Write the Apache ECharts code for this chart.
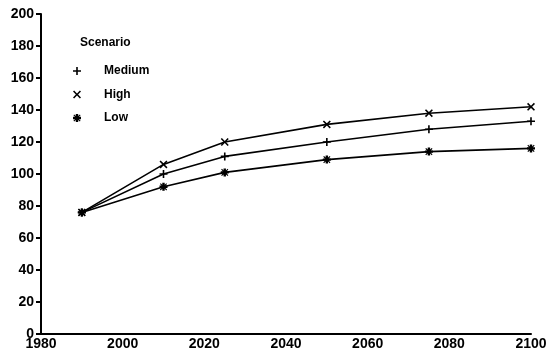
<!DOCTYPE html>
<html><head><meta charset="utf-8">
<script src="https://cdn.jsdelivr.net/npm/echarts@6/dist/echarts.min.js"></script>
<style>html,body{margin:0;padding:0;background:#fff}#c{width:550px;height:357px}</style>
</head><body><div id="c"></div>
<script>
var years = [1990, 2010, 2025, 2050, 2075, 2100];
var medium = [76, 100, 111, 120, 128, 133];
var high = [76, 106, 120, 131, 138, 142];
var low = [76, 92, 101, 109, 114, 116];
var seriesNames = ['Medium', 'High', 'Low'];
var xTicks = [1980, 2000, 2020, 2040, 2060, 2080, 2100];
var yTicks = [0, 20, 40, 60, 80, 100, 120, 140, 160, 180, 200];

var plusPath = 'path://M4,0H6V4H10V6H6V10H4V6H0V4H4Z';
var xPath = 'path://M1.4,0L5,3.6L8.6,0L10,1.4L6.4,5L10,8.6L8.6,10L5,6.4L1.4,10L0,8.6L3.6,5L0,1.4Z';
var starPath = 'path://M3.5,0H6.5V2.5L8.5,0.5L9.5,1.5L7.5,3.5H10V6.5H7.5L9.5,8.5L8.5,9.5L6.5,7.5V10H3.5V7.5L1.5,9.5L0.5,8.5L2.5,6.5H0V3.5H2.5L0.5,1.5L1.5,0.5L3.5,2.5Z';
var symbols = [plusPath, xPath, starPath];
var values = [medium, high, low];

function pairs(v){ return years.map(function(y,i){ return [y, v[i]]; }); }

var chart = echarts.init(document.getElementById('c'), null, {renderer:'canvas'});
var font = '"Liberation Sans", Arial, sans-serif';
chart.setOption({
  animation: false,
  backgroundColor: '#fff',
  title: {
    text: 'Scenario', left: 75, top: 32,
    textStyle: {fontFamily: font, fontSize: 12, fontWeight: 'bold', color: '#000'}
  },
  legend: {
    orient: 'vertical', left: 68, top: 60,
    itemWidth: 8, itemHeight: 8, itemGap: 11.5,
    data: seriesNames.map(function(n,i){ return {name: n, icon: symbols[i]}; }),
    textStyle: {fontFamily: font, fontSize: 12, fontWeight: 'bold', color: '#000', padding: [0,0,0,18]},
    itemStyle: {color: '#000'}
  },
  grid: {left: 41, right: 19, top: 14, bottom: 23, containLabel: false},
  xAxis: {
    type: 'value', min: xTicks[0], max: xTicks[xTicks.length-1], interval: 20,
    axisLine: {lineStyle: {color: '#000', width: 2}},
    axisTick: {show: false},
    splitLine: {show: false},
    axisLabel: {color: '#000', fontFamily: font, fontSize: 14, fontWeight: 'bold', margin: 3,
      formatter: function(v){ return String(v); }}
  },
  yAxis: {
    type: 'value', min: yTicks[0], max: yTicks[yTicks.length-1], interval: 20,
    axisLine: {show: true, lineStyle: {color: '#000', width: 2}},
    axisTick: {show: true, length: 5, lineStyle: {color: '#000', width: 2}},
    splitLine: {show: false},
    axisLabel: {color: '#000', fontFamily: font, fontSize: 14, fontWeight: 'bold', margin: 7,
      formatter: function(v){ return String(v); }}
  },
  series: seriesNames.map(function(n,i){
    return {
      name: n, type: 'line', data: pairs(values[i]),
      symbol: symbols[i], symbolSize: 8, showSymbol: true,
      lineStyle: {color: '#000', width: 1.6},
      itemStyle: {color: '#000'}
    };
  })
});
</script></body></html>
